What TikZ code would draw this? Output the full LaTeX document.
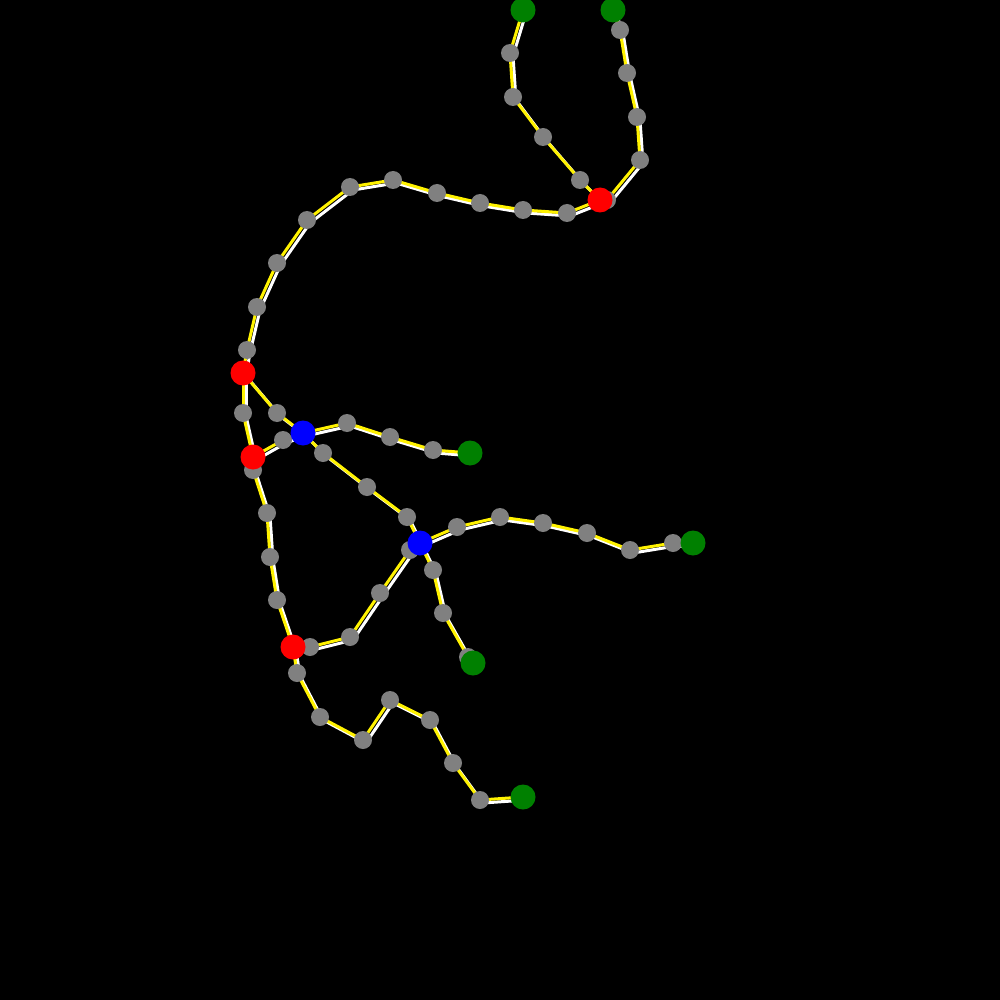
\documentclass[tikz,border=0pt]{standalone}
\begin{document}
\begin{tikzpicture}[x=1pt,y=-1pt,
  gn/.style={circle,fill={rgb,255:red,128;green,128;blue,128},inner sep=0pt,minimum size=18pt,draw=none},
  rn/.style={circle,fill=red,inner sep=0pt,minimum size=25pt,draw=none},
  bn/.style={circle,fill=blue,inner sep=0pt,minimum size=25pt,draw=none},
  en/.style={circle,fill={rgb,255:red,0;green,128;blue,0},inner sep=0pt,minimum size=25pt,draw=none},
  skel/.style={white,line width=3pt,transform canvas={shift={(3pt,-3pt)}}},
  edge/.style={yellow,line width=3pt}]
\fill[black] (0,0) rectangle (1000,1000);
\useasboundingbox (0,0) rectangle (1000,1000);
% coordinates for nodes (drawn later)
\foreach \n/\x/\y in {
 a1/510/53,a2/513/97,a3/543/137,a4/580/180,
 b1/620/30,b2/627/73,b3/637/117,b4/640/160,b5/607/200,
 c1/567/213,c2/523/210,c3/480/203,c4/437/193,c5/393/180,c6/350/187,c7/307/220,c8/277/263,c9/257/307,c10/247/350,
 d1/243/413,d2/277/413,d3/283/440,
 e0/253/470,e1/267/513,e2/270/557,e3/277/600,
 f1/347/423,f2/390/437,f3/433/450,
 h1/323/453,h2/367/487,h3/407/517,
 i1/457/527,i2/500/517,i3/543/523,i4/587/533,i5/630/550,i6/673/543,
 j1/433/570,j2/443/613,j3/468/657,
 k0/410/550,k1/380/593,k2/350/637,k3/310/647,
 m1/297/673,m2/320/717,m3/363/740,m4/390/700,m5/430/720,m6/453/763,m7/480/800}
 {\coordinate (\n) at (\x,\y);}
\foreach \n/\x/\y in {G1/523/10,G2/613/10,G3/470/453,G4/693/543,G5/473/663,G6/523/797,
 R1/600/200,R2/243/373,R3/253/457,R4/293/647,B1/303/433,B2/420/543}
 {\coordinate (\n) at (\x,\y);}
\def\edges{G1/a1,a1/a2,a2/a3,a3/a4,a4/R1,
 G2/b1,b1/b2,b2/b3,b3/b4,b4/b5,b5/R1,
 R1/c1,c1/c2,c2/c3,c3/c4,c4/c5,c5/c6,c6/c7,c7/c8,c8/c9,c9/c10,c10/R2,
 R2/d1,d1/R3,R2/d2,d2/B1,R3/d3,d3/B1,
 R3/e0,e0/e1,e1/e2,e2/e3,e3/R4,
 B1/f1,f1/f2,f2/f3,f3/G3,
 B1/h1,h1/h2,h2/h3,h3/B2,
 B2/i1,i1/i2,i2/i3,i3/i4,i4/i5,i5/i6,i6/G4,
 B2/j1,j1/j2,j2/j3,j3/G5,
 B2/k0,k0/k1,k1/k2,k2/k3,k3/R4,
 R4/m1,m1/m2,m2/m3,m3/m4,m4/m5,m5/m6,m6/m7,m7/G6}
\foreach \u/\v in \edges {\draw[skel] (\u) -- (\v);}
\foreach \u/\v in \edges {\draw[edge] (\u) -- (\v);}
\foreach \n in {a1,a2,a3,a4,b1,b2,b3,b4,b5,c1,c2,c3,c4,c5,c6,c7,c8,c9,c10,d1,d2,d3,e0,e1,e2,e3,f1,f2,f3,h1,h2,h3,i1,i2,i3,i4,i5,i6,j1,j2,j3,k0,k1,k2,k3,m1,m2,m3,m4,m5,m6,m7}
 {\node[gn] (n\n) at (\n) {};}
\foreach \n in {G1,G2,G3,G4,G5,G6} {\node[en] (n\n) at (\n) {};}
\foreach \n in {R1,R2,R3,R4} {\node[rn] (n\n) at (\n) {};}
\foreach \n in {B1,B2} {\node[bn] (n\n) at (\n) {};}
\end{tikzpicture}
\end{document}
